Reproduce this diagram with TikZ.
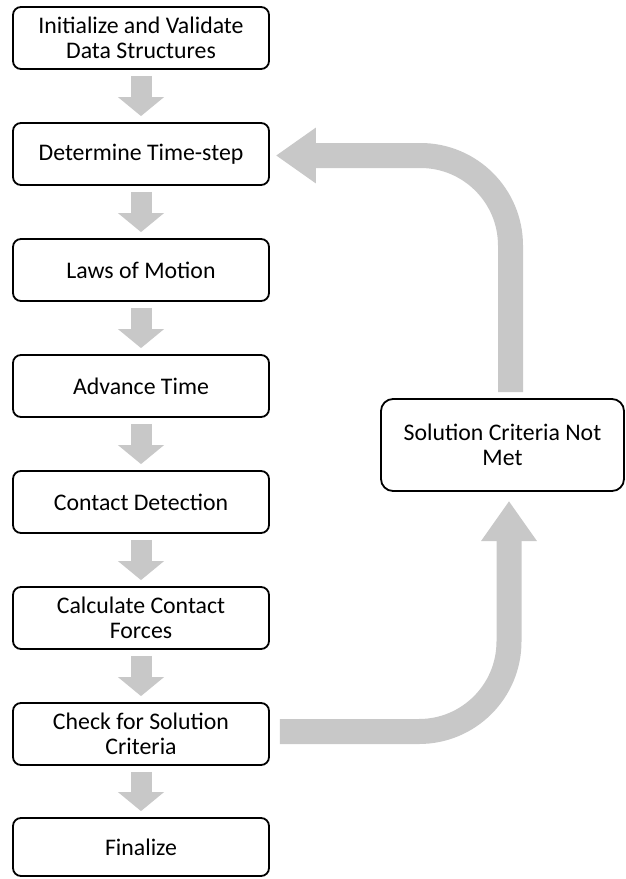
\documentclass[tikz,border=0pt]{standalone}
\usepackage{fontspec}
\setmainfont{Carlito}
\usetikzlibrary{arrows.meta,calc}
\definecolor{arrowgray}{RGB}{200,200,200}
\begin{document}
\begin{tikzpicture}[x=1pt,y=-1pt,
  stepbox/.style={draw, line width=1.8pt, rounded corners=8pt, minimum width=256pt,
    minimum height=62pt, align=center, inner sep=0pt, fill=white,
    font=\fontsize{23.8}{25}\selectfont},
  downarrow/.style={draw=arrowgray, line width=21pt, -{Triangle[width=45pt,length=19pt]}},
  looparrow/.style={draw=arrowgray, line width=25pt, rounded corners=90pt,
    -{Triangle[width=53pt,length=40pt]}}]
\useasboundingbox (0,0) rectangle (626,879);
\node[stepbox] (b0) at (141,38)  {Initialize and Validate\\Data Structures};
\node[stepbox] (b1) at (141,154) {Determine Time-step};
\node[stepbox] (b2) at (141,270) {Laws of Motion};
\node[stepbox] (b3) at (141,386) {Advance Time};
\node[stepbox] (b4) at (141,502) {Contact Detection};
\node[stepbox] (b5) at (141,618) {Calculate Contact\\Forces};
\node[stepbox] (b6) at (141,734) {Check for Solution\\Criteria};
\node[stepbox, minimum height=58pt] (b7) at (141,847) {Finalize};
\node[stepbox, minimum width=243pt, minimum height=92pt, rounded corners=12pt] (sol) at (502.5,445) {Solution Criteria Not\\Met};
\foreach \a/\b in {b0/b1,b1/b2,b2/b3,b3/b4,b4/b5,b5/b6,b6/b7}
  \draw[downarrow] ([yshift=-6pt]\a.south) -- ([yshift=6pt]\b.north);
\coordinate (up) at (509,501);
\coordinate (upstart) at (510.5,392);
\draw[looparrow] ([xshift=10pt,yshift=2.5pt]b6.east) -| (up);
\draw[looparrow] (upstart) |- ([xshift=6pt,yshift=-1.5pt]b1.east);
\end{tikzpicture}
\end{document}
